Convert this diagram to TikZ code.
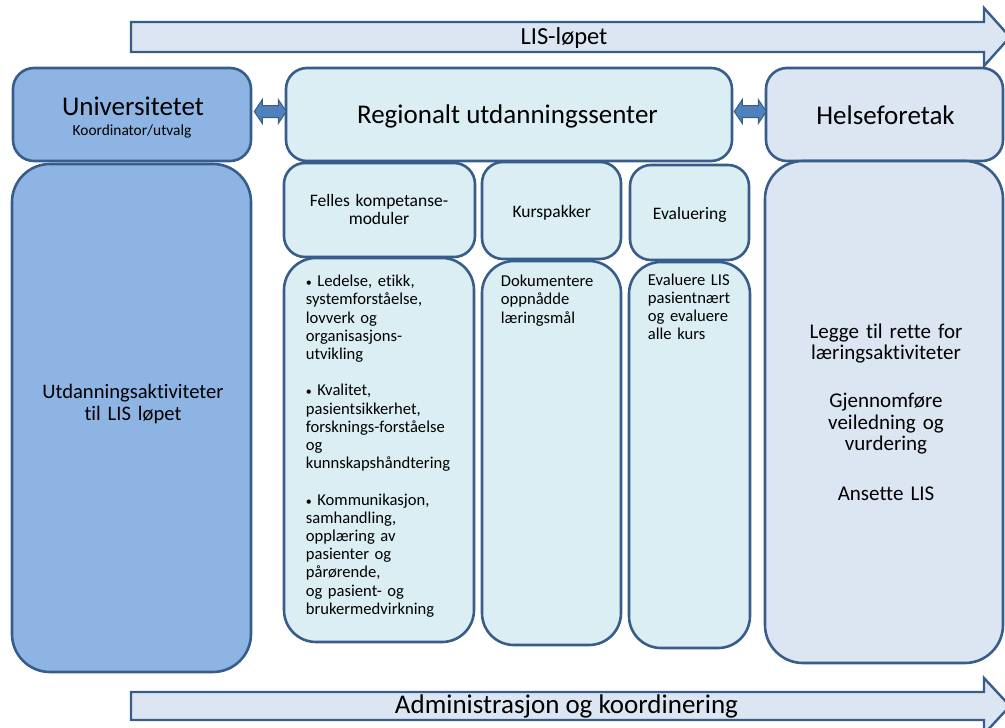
\documentclass[tikz,border=0pt]{standalone}
\usepackage{fontspec}
\setmainfont{Carlito}[Ligatures=NoCommon]
\usetikzlibrary{calc}

\definecolor{boxline}{HTML}{385D8A}
\definecolor{unifill}{HTML}{8EB4E3}
\definecolor{rucfill}{HTML}{DAEEF3}
\definecolor{hffill}{HTML}{DCE6F2}
\definecolor{dblfill}{HTML}{4F81BD}

\newcommand{\fs}[2]{\fontsize{#1}{#2}\selectfont}
\newcommand{\bul}{{\fs{12}{18.2}•}}

\begin{document}
\begin{tikzpicture}[x=1pt,y=-1pt,
    box/.style={draw=boxline, line width=2.6pt, inner sep=0pt},
    headbox/.style={box, rounded corners=21pt},
    colbox/.style={box, rounded corners=32pt},
    sidebox/.style={box, rounded corners=38pt},
    flow/.style={draw=boxline, line width=2.4pt, fill=hffill},
    dblarrow/.style={draw=boxline, line width=1pt, fill=dblfill},
    title/.style={font=\fs{27}{30}, anchor=base, inner sep=0pt},
    label/.style={font=\fs{17.5}{18}, anchor=base, inner sep=0pt, align=center},
    bodytext/.style={font=\fs{16.6}{18.2}, anchor=base west, inner sep=0pt, align=left}]
  \useasboundingbox (0,0) rectangle (1005,728);
  \clip (0,0) rectangle (1005,728);

  % flow arrows
  \draw[flow] (131,22) -- (984,22) -- (984,8) -- (1010,37) -- (984,66) -- (984,52) -- (131,52) -- cycle;
  \node[title, font=\fs{24.5}{28}] (lis) at (564,45) {LIS-løpet};
  \draw[flow] (131,692) -- (984,692) -- (984,678) -- (1010,706) -- (984,734) -- (984,720) -- (131,720) -- cycle;
  \node[title] (adm) at (566.5,713) {Administrasjon og koordinering};

  % top row
  \node[headbox, fill=unifill, minimum width=238pt, minimum height=93pt] (uni) at (132,114.5) {};
  \node[headbox, fill=rucfill, minimum width=446pt, minimum height=93pt] (ruc) at (509,114.5) {};
  \node[headbox, fill=hffill, minimum width=237pt, minimum height=93pt] (hf) at (884.5,114.5) {};
  \node[title] (unitxt) at (133,115) {Universitetet};
  \node[title, font=\fs{15.4}{17}] (unisub) at (132,135) {Koordinator/utvalg};
  \node[title] (ructxt) at (507.5,123.3) {Regionalt utdanningssenter};
  \node[title] (hftxt) at (885.5,124) {Helseforetak};

  % links between the top boxes
  \draw[dblarrow] ($(uni.east)+(2,-3)$) -- ++(8,-12) -- ++(0,6) -- ++(16,0) -- ++(0,-6)
    -- ++(8,12) -- ++(-8,12) -- ++(0,-6) -- ++(-16,0) -- ++(0,6) -- cycle;
  \draw[dblarrow] ($(ruc.east)+(1,-3)$) -- ++(8,-12) -- ++(0,6) -- ++(16,0) -- ++(0,-6)
    -- ++(8,12) -- ++(-8,12) -- ++(0,-6) -- ++(-16,0) -- ++(0,6) -- cycle;

  % side columns
  \node[sidebox, fill=unifill, minimum width=239pt, minimum height=508pt] (uniact) at (131.5,418) {};
  \node[sidebox, fill=hffill, minimum width=238pt, minimum height=502pt] (hfact) at (884,412) {};
  \node[label, font=\fs{20.6}{22}, text width=220pt] (uniacttxt) at (133,398)
    {Utdanningsaktiviteter\\til LIS løpet};
  \node[label, font=\fs{21}{21.5}, text width=220pt] (hfacttxt) at (886,338)
    {Legge til rette for\\læringsaktiviteter\\[26.5pt]
     Gjennomføre\\veiledning og\\vurdering\\[28.5pt]
     Ansette LIS};

  % middle columns
  \node[headbox, fill=rucfill, minimum width=191pt, minimum height=94pt] (felles) at (379.5,210) {};
  \node[headbox, fill=rucfill, minimum width=139pt, minimum height=97pt] (kurs) at (551.5,210.5) {};
  \node[headbox, fill=rucfill, minimum width=119pt, minimum height=95pt] (eval) at (689.5,212.5) {};
  \node[colbox, fill=rucfill, minimum width=190pt, minimum height=384pt] (fellesbody) at (379,450) {};
  \node[colbox, fill=rucfill, minimum width=139pt, minimum height=384pt] (kursbody) at (551.5,453) {};
  \node[colbox, fill=rucfill, minimum width=121pt, minimum height=386pt] (evalbody) at (689.5,455) {};

  \node[label, text width=180pt] (fellestxt) at (379,206) {Felles kompetanse-\\moduler};
  \node[label] (kurstxt) at (551.7,217.7) {Kurspakker};
  \node[label] (evaltxt) at (689.7,219.3) {Evaluering};

  \node[bodytext, text width=170pt] (fellesbodytxt) at (305.7,286.7) {%
    \bul{} Ledelse, etikk,\\ systemforståelse,\\ lovverk og\\ organisasjons-\\ utvikling\\[18.2pt]
    \bul{} Kvalitet,\\ pasientsikkerhet,\\ forsknings-forståelse\\ og\\ kunnskapshåndtering\\[18.2pt]
    \bul{} Kommunikasjon,\\ samhandling,\\ opplæring av\\ pasienter og\\ pårørende,\\ og pasient- og\\ brukermedvirkning};
  \node[bodytext, text width=120pt] (kursbodytxt) at (500.7,286.7)
    {Dokumentere\\ oppnådde\\ læringsmål};
  \node[bodytext, text width=100pt] (evalbodytxt) at (647.7,285.3)
    {Evaluere LIS\\ pasientnært\\ og evaluere\\ alle kurs};
\end{tikzpicture}
\end{document}
